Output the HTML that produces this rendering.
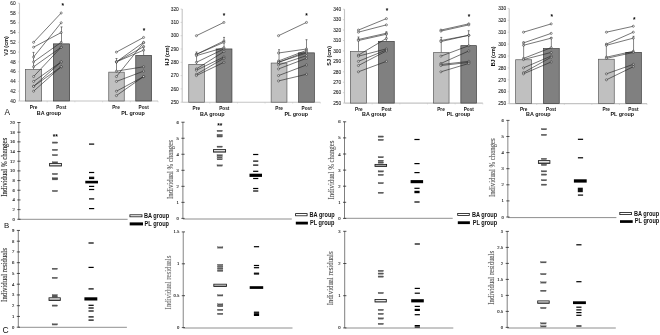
<!DOCTYPE html>
<html><head><meta charset="utf-8"><title>Figure</title>
<style>
html,body{margin:0;padding:0;background:#fff;}
body{width:660px;height:335px;overflow:hidden;}
svg{display:block;filter:blur(0.25px);}
.at{font-family:"Liberation Sans", sans-serif;font-size:4.8px;fill:#2a2a2a;stroke:#2a2a2a;stroke-width:0.1px;text-anchor:end;}
.pp{font-family:"Liberation Sans", sans-serif;font-size:4.7px;font-weight:bold;fill:#111;text-anchor:middle;}
.grp{font-family:"Liberation Sans", sans-serif;font-size:5.4px;font-weight:bold;fill:#111;text-anchor:middle;}
.ayl{font-family:"Liberation Sans", sans-serif;font-size:5.45px;font-weight:bold;fill:#111;text-anchor:middle;}
.pl{font-family:"Liberation Sans", sans-serif;font-size:7.8px;fill:#111;}
.star{font-family:"Liberation Sans", sans-serif;font-size:6.5px;font-weight:bold;fill:#000;text-anchor:middle;}
.star2{font-family:"Liberation Sans", sans-serif;font-size:6.6px;font-weight:bold;fill:#000;text-anchor:middle;}
.bt{font-family:"Liberation Serif", serif;font-size:4.7px;fill:#222;stroke:#222;stroke-width:0.12px;text-anchor:end;}
.byl{font-family:"Liberation Serif", serif;font-size:6.8px;fill:#444;stroke:#444;stroke-width:0.1px;text-anchor:middle;}
.leg{font-family:"Liberation Sans", sans-serif;font-size:5.6px;font-weight:bold;fill:#111;}
.pt{fill:#fff;fill-opacity:0.6;stroke:#222;stroke-width:0.5;}
</style></head>
<body>
<svg width="660" height="335" viewBox="0 0 660 335">
<defs><linearGradient id="bx" x1="0" y1="0" x2="0" y2="1"><stop offset="0" stop-color="#f4f4f4"/><stop offset="0.45" stop-color="#e8e8e8"/><stop offset="0.55" stop-color="#a8a8a8"/><stop offset="1" stop-color="#a0a0a0"/></linearGradient></defs>
<rect width="660" height="335" fill="#fff"/>
<line x1="19.5" y1="3.2" x2="19.5" y2="101" stroke="#c4c4c4" stroke-width="1.1"/>
<line x1="19.5" y1="101" x2="158" y2="101" stroke="#c4c4c4" stroke-width="1.1"/>
<line x1="17.9" y1="101" x2="19.5" y2="101" stroke="#c4c4c4" stroke-width="0.7"/>
<text x="15.6" y="102.7" class="at">40</text>
<line x1="17.9" y1="91.22" x2="19.5" y2="91.22" stroke="#c4c4c4" stroke-width="0.7"/>
<text x="15.6" y="92.92" class="at">42</text>
<line x1="17.9" y1="81.44" x2="19.5" y2="81.44" stroke="#c4c4c4" stroke-width="0.7"/>
<text x="15.6" y="83.14" class="at">44</text>
<line x1="17.9" y1="71.66" x2="19.5" y2="71.66" stroke="#c4c4c4" stroke-width="0.7"/>
<text x="15.6" y="73.36" class="at">46</text>
<line x1="17.9" y1="61.88" x2="19.5" y2="61.88" stroke="#c4c4c4" stroke-width="0.7"/>
<text x="15.6" y="63.58" class="at">48</text>
<line x1="17.9" y1="52.1" x2="19.5" y2="52.1" stroke="#c4c4c4" stroke-width="0.7"/>
<text x="15.6" y="53.8" class="at">50</text>
<line x1="17.9" y1="42.32" x2="19.5" y2="42.32" stroke="#c4c4c4" stroke-width="0.7"/>
<text x="15.6" y="44.02" class="at">52</text>
<line x1="17.9" y1="32.54" x2="19.5" y2="32.54" stroke="#c4c4c4" stroke-width="0.7"/>
<text x="15.6" y="34.24" class="at">54</text>
<line x1="17.9" y1="22.76" x2="19.5" y2="22.76" stroke="#c4c4c4" stroke-width="0.7"/>
<text x="15.6" y="24.46" class="at">56</text>
<line x1="17.9" y1="12.98" x2="19.5" y2="12.98" stroke="#c4c4c4" stroke-width="0.7"/>
<text x="15.6" y="14.68" class="at">58</text>
<line x1="17.9" y1="3.2" x2="19.5" y2="3.2" stroke="#c4c4c4" stroke-width="0.7"/>
<text x="15.6" y="4.9" class="at">60</text>
<line x1="47.2" y1="101" x2="47.2" y2="102.3" stroke="#c4c4c4" stroke-width="0.6"/>
<line x1="74.9" y1="101" x2="74.9" y2="102.3" stroke="#c4c4c4" stroke-width="0.6"/>
<line x1="102.6" y1="101" x2="102.6" y2="102.3" stroke="#c4c4c4" stroke-width="0.6"/>
<line x1="130.3" y1="101" x2="130.3" y2="102.3" stroke="#c4c4c4" stroke-width="0.6"/>
<line x1="158" y1="101" x2="158" y2="102.3" stroke="#c4c4c4" stroke-width="0.6"/>
<rect x="25.35" y="69.55" width="16.3" height="31.45" fill="#c0c0c0" stroke="#5a5a5a" stroke-width="0.7"/>
<rect x="53.35" y="43.85" width="16.3" height="57.15" fill="#808080" stroke="#3c3c3c" stroke-width="0.7"/>
<rect x="108.75" y="72.15" width="15.5" height="28.85" fill="#c0c0c0" stroke="#5a5a5a" stroke-width="0.7"/>
<rect x="135.75" y="55.35" width="15.8" height="45.65" fill="#808080" stroke="#3c3c3c" stroke-width="0.7"/>
<line x1="33.5" y1="52.4" x2="33.5" y2="69.2" stroke="#333" stroke-width="0.6"/>
<line x1="32.5" y1="52.4" x2="34.5" y2="52.4" stroke="#333" stroke-width="0.6"/>
<line x1="61.5" y1="26.9" x2="61.5" y2="43.5" stroke="#333" stroke-width="0.6"/>
<line x1="60.5" y1="26.9" x2="62.5" y2="26.9" stroke="#333" stroke-width="0.6"/>
<line x1="116.5" y1="58.5" x2="116.5" y2="71.8" stroke="#333" stroke-width="0.6"/>
<line x1="115.5" y1="58.5" x2="117.5" y2="58.5" stroke="#333" stroke-width="0.6"/>
<line x1="143.65" y1="46" x2="143.65" y2="55" stroke="#333" stroke-width="0.6"/>
<line x1="142.65" y1="46" x2="144.65" y2="46" stroke="#333" stroke-width="0.6"/>
<line x1="33.6" y1="42.32" x2="61.2" y2="12.98" stroke="#222" stroke-width="0.62"/>
<line x1="33.6" y1="47.21" x2="61.2" y2="32.54" stroke="#222" stroke-width="0.62"/>
<line x1="33.6" y1="56.99" x2="61.2" y2="22.76" stroke="#222" stroke-width="0.62"/>
<line x1="33.6" y1="61.88" x2="61.2" y2="42.32" stroke="#222" stroke-width="0.62"/>
<line x1="33.6" y1="66.77" x2="61.2" y2="47.21" stroke="#222" stroke-width="0.62"/>
<line x1="33.6" y1="76.55" x2="61.2" y2="47.21" stroke="#222" stroke-width="0.62"/>
<line x1="33.6" y1="81.44" x2="61.2" y2="61.88" stroke="#222" stroke-width="0.62"/>
<line x1="33.6" y1="86.33" x2="61.2" y2="61.88" stroke="#222" stroke-width="0.62"/>
<line x1="33.6" y1="86.33" x2="61.2" y2="66.77" stroke="#222" stroke-width="0.62"/>
<line x1="33.6" y1="91.22" x2="61.2" y2="66.77" stroke="#222" stroke-width="0.62"/>
<circle cx="33.6" cy="42.32" r="1.05" class="pt"/>
<circle cx="61.2" cy="12.98" r="1.05" class="pt"/>
<circle cx="33.6" cy="47.21" r="1.05" class="pt"/>
<circle cx="61.2" cy="32.54" r="1.05" class="pt"/>
<circle cx="33.6" cy="56.99" r="1.05" class="pt"/>
<circle cx="61.2" cy="22.76" r="1.05" class="pt"/>
<circle cx="33.6" cy="61.88" r="1.05" class="pt"/>
<circle cx="61.2" cy="42.32" r="1.05" class="pt"/>
<circle cx="33.6" cy="66.77" r="1.05" class="pt"/>
<circle cx="61.2" cy="47.21" r="1.05" class="pt"/>
<circle cx="33.6" cy="76.55" r="1.05" class="pt"/>
<circle cx="61.2" cy="47.21" r="1.05" class="pt"/>
<circle cx="33.6" cy="81.44" r="1.05" class="pt"/>
<circle cx="61.2" cy="61.88" r="1.05" class="pt"/>
<circle cx="33.6" cy="86.33" r="1.05" class="pt"/>
<circle cx="61.2" cy="61.88" r="1.05" class="pt"/>
<circle cx="33.6" cy="86.33" r="1.05" class="pt"/>
<circle cx="61.2" cy="66.77" r="1.05" class="pt"/>
<circle cx="33.6" cy="91.22" r="1.05" class="pt"/>
<circle cx="61.2" cy="66.77" r="1.05" class="pt"/>
<line x1="116.4" y1="52.1" x2="143.6" y2="37.43" stroke="#222" stroke-width="0.62"/>
<line x1="116.4" y1="61.88" x2="143.6" y2="42.32" stroke="#222" stroke-width="0.62"/>
<line x1="116.4" y1="61.88" x2="143.6" y2="46.72" stroke="#222" stroke-width="0.62"/>
<line x1="116.4" y1="61.88" x2="143.6" y2="50.14" stroke="#222" stroke-width="0.62"/>
<line x1="116.4" y1="71.17" x2="143.6" y2="66.77" stroke="#222" stroke-width="0.62"/>
<line x1="116.4" y1="76.55" x2="143.6" y2="42.81" stroke="#222" stroke-width="0.62"/>
<line x1="116.4" y1="81.44" x2="143.6" y2="71.17" stroke="#222" stroke-width="0.62"/>
<line x1="116.4" y1="91.22" x2="143.6" y2="76.55" stroke="#222" stroke-width="0.62"/>
<line x1="116.4" y1="95.62" x2="143.6" y2="76.55" stroke="#222" stroke-width="0.62"/>
<circle cx="116.4" cy="52.1" r="1.05" class="pt"/>
<circle cx="143.6" cy="37.43" r="1.05" class="pt"/>
<circle cx="116.4" cy="61.88" r="1.05" class="pt"/>
<circle cx="143.6" cy="42.32" r="1.05" class="pt"/>
<circle cx="116.4" cy="61.88" r="1.05" class="pt"/>
<circle cx="143.6" cy="46.72" r="1.05" class="pt"/>
<circle cx="116.4" cy="61.88" r="1.05" class="pt"/>
<circle cx="143.6" cy="50.14" r="1.05" class="pt"/>
<circle cx="116.4" cy="71.17" r="1.05" class="pt"/>
<circle cx="143.6" cy="66.77" r="1.05" class="pt"/>
<circle cx="116.4" cy="76.55" r="1.05" class="pt"/>
<circle cx="143.6" cy="42.81" r="1.05" class="pt"/>
<circle cx="116.4" cy="81.44" r="1.05" class="pt"/>
<circle cx="143.6" cy="71.17" r="1.05" class="pt"/>
<circle cx="116.4" cy="91.22" r="1.05" class="pt"/>
<circle cx="143.6" cy="76.55" r="1.05" class="pt"/>
<circle cx="116.4" cy="95.62" r="1.05" class="pt"/>
<circle cx="143.6" cy="76.55" r="1.05" class="pt"/>
<text x="62.8" y="7.9" class="star">*</text>
<text x="144" y="32.5" class="star">*</text>
<text x="33.6" y="108.8" class="pp">Pre</text>
<text x="61.3" y="108.8" class="pp">Post</text>
<text x="49" y="115" class="grp">BA group</text>
<text x="116" y="108.8" class="pp">Pre</text>
<text x="143.7" y="108.8" class="pp">Post</text>
<text x="133" y="115" class="grp">PL group</text>
<text transform="translate(7.7,46) rotate(-90)" class="ayl">VJ (cm)</text>
<line x1="182.2" y1="9.1" x2="182.2" y2="102.2" stroke="#c4c4c4" stroke-width="1.1"/>
<line x1="182.2" y1="102.2" x2="320.3" y2="102.2" stroke="#c4c4c4" stroke-width="1.1"/>
<line x1="180.6" y1="102.2" x2="182.2" y2="102.2" stroke="#c4c4c4" stroke-width="0.7"/>
<text x="178.8" y="103.9" class="at">250</text>
<line x1="180.6" y1="88.9" x2="182.2" y2="88.9" stroke="#c4c4c4" stroke-width="0.7"/>
<text x="178.8" y="90.6" class="at">260</text>
<line x1="180.6" y1="75.6" x2="182.2" y2="75.6" stroke="#c4c4c4" stroke-width="0.7"/>
<text x="178.8" y="77.3" class="at">270</text>
<line x1="180.6" y1="62.3" x2="182.2" y2="62.3" stroke="#c4c4c4" stroke-width="0.7"/>
<text x="178.8" y="64" class="at">280</text>
<line x1="180.6" y1="49" x2="182.2" y2="49" stroke="#c4c4c4" stroke-width="0.7"/>
<text x="178.8" y="50.7" class="at">290</text>
<line x1="180.6" y1="35.7" x2="182.2" y2="35.7" stroke="#c4c4c4" stroke-width="0.7"/>
<text x="178.8" y="37.4" class="at">300</text>
<line x1="180.6" y1="22.4" x2="182.2" y2="22.4" stroke="#c4c4c4" stroke-width="0.7"/>
<text x="178.8" y="24.1" class="at">310</text>
<line x1="180.6" y1="9.1" x2="182.2" y2="9.1" stroke="#c4c4c4" stroke-width="0.7"/>
<text x="178.8" y="10.8" class="at">320</text>
<line x1="209.82" y1="102.2" x2="209.82" y2="103.5" stroke="#c4c4c4" stroke-width="0.6"/>
<line x1="237.44" y1="102.2" x2="237.44" y2="103.5" stroke="#c4c4c4" stroke-width="0.6"/>
<line x1="265.06" y1="102.2" x2="265.06" y2="103.5" stroke="#c4c4c4" stroke-width="0.6"/>
<line x1="292.68" y1="102.2" x2="292.68" y2="103.5" stroke="#c4c4c4" stroke-width="0.6"/>
<line x1="320.3" y1="102.2" x2="320.3" y2="103.5" stroke="#c4c4c4" stroke-width="0.6"/>
<rect x="188.75" y="64.45" width="15.6" height="37.75" fill="#c0c0c0" stroke="#5a5a5a" stroke-width="0.7"/>
<rect x="216.15" y="48.95" width="15.8" height="53.25" fill="#808080" stroke="#3c3c3c" stroke-width="0.7"/>
<rect x="271.15" y="63.05" width="15.8" height="39.15" fill="#c0c0c0" stroke="#5a5a5a" stroke-width="0.7"/>
<rect x="298.65" y="52.85" width="15.7" height="49.35" fill="#808080" stroke="#3c3c3c" stroke-width="0.7"/>
<line x1="196.55" y1="52" x2="196.55" y2="64.1" stroke="#333" stroke-width="0.6"/>
<line x1="195.55" y1="52" x2="197.55" y2="52" stroke="#333" stroke-width="0.6"/>
<line x1="224.05" y1="37.4" x2="224.05" y2="48.6" stroke="#333" stroke-width="0.6"/>
<line x1="223.05" y1="37.4" x2="225.05" y2="37.4" stroke="#333" stroke-width="0.6"/>
<line x1="279.05" y1="49.7" x2="279.05" y2="62.7" stroke="#333" stroke-width="0.6"/>
<line x1="278.05" y1="49.7" x2="280.05" y2="49.7" stroke="#333" stroke-width="0.6"/>
<line x1="306.5" y1="39.7" x2="306.5" y2="52.5" stroke="#333" stroke-width="0.6"/>
<line x1="305.5" y1="39.7" x2="307.5" y2="39.7" stroke="#333" stroke-width="0.6"/>
<line x1="196.4" y1="35.7" x2="223.9" y2="22.4" stroke="#222" stroke-width="0.62"/>
<line x1="196.4" y1="54.32" x2="223.9" y2="41.02" stroke="#222" stroke-width="0.62"/>
<line x1="196.4" y1="54.32" x2="223.9" y2="42.35" stroke="#222" stroke-width="0.62"/>
<line x1="196.4" y1="55.65" x2="223.9" y2="47.67" stroke="#222" stroke-width="0.62"/>
<line x1="196.4" y1="62.3" x2="223.9" y2="49" stroke="#222" stroke-width="0.62"/>
<line x1="196.4" y1="68.95" x2="223.9" y2="51.66" stroke="#222" stroke-width="0.62"/>
<line x1="196.4" y1="70.28" x2="223.9" y2="56.98" stroke="#222" stroke-width="0.62"/>
<line x1="196.4" y1="74.27" x2="223.9" y2="58.31" stroke="#222" stroke-width="0.62"/>
<line x1="196.4" y1="75.6" x2="223.9" y2="62.3" stroke="#222" stroke-width="0.62"/>
<circle cx="196.4" cy="35.7" r="1.05" class="pt"/>
<circle cx="223.9" cy="22.4" r="1.05" class="pt"/>
<circle cx="196.4" cy="54.32" r="1.05" class="pt"/>
<circle cx="223.9" cy="41.02" r="1.05" class="pt"/>
<circle cx="196.4" cy="54.32" r="1.05" class="pt"/>
<circle cx="223.9" cy="42.35" r="1.05" class="pt"/>
<circle cx="196.4" cy="55.65" r="1.05" class="pt"/>
<circle cx="223.9" cy="47.67" r="1.05" class="pt"/>
<circle cx="196.4" cy="62.3" r="1.05" class="pt"/>
<circle cx="223.9" cy="49" r="1.05" class="pt"/>
<circle cx="196.4" cy="68.95" r="1.05" class="pt"/>
<circle cx="223.9" cy="51.66" r="1.05" class="pt"/>
<circle cx="196.4" cy="70.28" r="1.05" class="pt"/>
<circle cx="223.9" cy="56.98" r="1.05" class="pt"/>
<circle cx="196.4" cy="74.27" r="1.05" class="pt"/>
<circle cx="223.9" cy="58.31" r="1.05" class="pt"/>
<circle cx="196.4" cy="75.6" r="1.05" class="pt"/>
<circle cx="223.9" cy="62.3" r="1.05" class="pt"/>
<line x1="278.5" y1="35.7" x2="306.5" y2="22.4" stroke="#222" stroke-width="0.62"/>
<line x1="278.5" y1="52.99" x2="306.5" y2="49" stroke="#222" stroke-width="0.62"/>
<line x1="278.5" y1="60.97" x2="306.5" y2="50.33" stroke="#222" stroke-width="0.62"/>
<line x1="278.5" y1="62.3" x2="306.5" y2="51.66" stroke="#222" stroke-width="0.62"/>
<line x1="278.5" y1="62.3" x2="306.5" y2="52.99" stroke="#222" stroke-width="0.62"/>
<line x1="278.5" y1="64.96" x2="306.5" y2="55.65" stroke="#222" stroke-width="0.62"/>
<line x1="278.5" y1="68.95" x2="306.5" y2="58.31" stroke="#222" stroke-width="0.62"/>
<line x1="278.5" y1="75.6" x2="306.5" y2="64.96" stroke="#222" stroke-width="0.62"/>
<line x1="278.5" y1="80.92" x2="306.5" y2="74.27" stroke="#222" stroke-width="0.62"/>
<circle cx="278.5" cy="35.7" r="1.05" class="pt"/>
<circle cx="306.5" cy="22.4" r="1.05" class="pt"/>
<circle cx="278.5" cy="52.99" r="1.05" class="pt"/>
<circle cx="306.5" cy="49" r="1.05" class="pt"/>
<circle cx="278.5" cy="60.97" r="1.05" class="pt"/>
<circle cx="306.5" cy="50.33" r="1.05" class="pt"/>
<circle cx="278.5" cy="62.3" r="1.05" class="pt"/>
<circle cx="306.5" cy="51.66" r="1.05" class="pt"/>
<circle cx="278.5" cy="62.3" r="1.05" class="pt"/>
<circle cx="306.5" cy="52.99" r="1.05" class="pt"/>
<circle cx="278.5" cy="64.96" r="1.05" class="pt"/>
<circle cx="306.5" cy="55.65" r="1.05" class="pt"/>
<circle cx="278.5" cy="68.95" r="1.05" class="pt"/>
<circle cx="306.5" cy="58.31" r="1.05" class="pt"/>
<circle cx="278.5" cy="75.6" r="1.05" class="pt"/>
<circle cx="306.5" cy="64.96" r="1.05" class="pt"/>
<circle cx="278.5" cy="80.92" r="1.05" class="pt"/>
<circle cx="306.5" cy="74.27" r="1.05" class="pt"/>
<text x="223.9" y="17.5" class="star">*</text>
<text x="306.5" y="18.1" class="star">*</text>
<text x="196.4" y="110.2" class="pp">Pre</text>
<text x="224.3" y="110.2" class="pp">Post</text>
<text x="212.3" y="115.6" class="grp">BA group</text>
<text x="279.1" y="110.2" class="pp">Pre</text>
<text x="306.7" y="110.2" class="pp">Post</text>
<text x="296.2" y="115.6" class="grp">PL group</text>
<text transform="translate(168.5,55.5) rotate(-90)" class="ayl">HJ (cm)</text>
<line x1="344.5" y1="9.23" x2="344.5" y2="103.1" stroke="#c4c4c4" stroke-width="1.1"/>
<line x1="344.5" y1="103.1" x2="482.8" y2="103.1" stroke="#c4c4c4" stroke-width="1.1"/>
<line x1="342.9" y1="103.1" x2="344.5" y2="103.1" stroke="#c4c4c4" stroke-width="0.7"/>
<text x="341.2" y="104.8" class="at">250</text>
<line x1="342.9" y1="92.67" x2="344.5" y2="92.67" stroke="#c4c4c4" stroke-width="0.7"/>
<text x="341.2" y="94.37" class="at">260</text>
<line x1="342.9" y1="82.24" x2="344.5" y2="82.24" stroke="#c4c4c4" stroke-width="0.7"/>
<text x="341.2" y="83.94" class="at">270</text>
<line x1="342.9" y1="71.81" x2="344.5" y2="71.81" stroke="#c4c4c4" stroke-width="0.7"/>
<text x="341.2" y="73.51" class="at">280</text>
<line x1="342.9" y1="61.38" x2="344.5" y2="61.38" stroke="#c4c4c4" stroke-width="0.7"/>
<text x="341.2" y="63.08" class="at">290</text>
<line x1="342.9" y1="50.95" x2="344.5" y2="50.95" stroke="#c4c4c4" stroke-width="0.7"/>
<text x="341.2" y="52.65" class="at">300</text>
<line x1="342.9" y1="40.52" x2="344.5" y2="40.52" stroke="#c4c4c4" stroke-width="0.7"/>
<text x="341.2" y="42.22" class="at">310</text>
<line x1="342.9" y1="30.09" x2="344.5" y2="30.09" stroke="#c4c4c4" stroke-width="0.7"/>
<text x="341.2" y="31.79" class="at">320</text>
<line x1="342.9" y1="19.66" x2="344.5" y2="19.66" stroke="#c4c4c4" stroke-width="0.7"/>
<text x="341.2" y="21.36" class="at">330</text>
<line x1="342.9" y1="9.23" x2="344.5" y2="9.23" stroke="#c4c4c4" stroke-width="0.7"/>
<text x="341.2" y="10.93" class="at">340</text>
<line x1="372.16" y1="103.1" x2="372.16" y2="104.4" stroke="#c4c4c4" stroke-width="0.6"/>
<line x1="399.82" y1="103.1" x2="399.82" y2="104.4" stroke="#c4c4c4" stroke-width="0.6"/>
<line x1="427.48" y1="103.1" x2="427.48" y2="104.4" stroke="#c4c4c4" stroke-width="0.6"/>
<line x1="455.14" y1="103.1" x2="455.14" y2="104.4" stroke="#c4c4c4" stroke-width="0.6"/>
<line x1="482.8" y1="103.1" x2="482.8" y2="104.4" stroke="#c4c4c4" stroke-width="0.6"/>
<rect x="350.35" y="51.55" width="16.3" height="51.55" fill="#c0c0c0" stroke="#5a5a5a" stroke-width="0.7"/>
<rect x="378.55" y="41.35" width="15.7" height="61.75" fill="#808080" stroke="#3c3c3c" stroke-width="0.7"/>
<rect x="433.45" y="52.65" width="15.6" height="50.45" fill="#c0c0c0" stroke="#5a5a5a" stroke-width="0.7"/>
<rect x="460.85" y="45.65" width="15.6" height="57.45" fill="#808080" stroke="#3c3c3c" stroke-width="0.7"/>
<line x1="358.5" y1="37" x2="358.5" y2="51.2" stroke="#333" stroke-width="0.6"/>
<line x1="357.5" y1="37" x2="359.5" y2="37" stroke="#333" stroke-width="0.6"/>
<line x1="386.4" y1="31.8" x2="386.4" y2="41" stroke="#333" stroke-width="0.6"/>
<line x1="385.4" y1="31.8" x2="387.4" y2="31.8" stroke="#333" stroke-width="0.6"/>
<line x1="441.25" y1="37.4" x2="441.25" y2="52.3" stroke="#333" stroke-width="0.6"/>
<line x1="440.25" y1="37.4" x2="442.25" y2="37.4" stroke="#333" stroke-width="0.6"/>
<line x1="468.65" y1="30.7" x2="468.65" y2="45.3" stroke="#333" stroke-width="0.6"/>
<line x1="467.65" y1="30.7" x2="469.65" y2="30.7" stroke="#333" stroke-width="0.6"/>
<line x1="358.4" y1="30.09" x2="386.4" y2="18.62" stroke="#222" stroke-width="0.62"/>
<line x1="358.4" y1="32.18" x2="386.4" y2="24.88" stroke="#222" stroke-width="0.62"/>
<line x1="358.4" y1="39.48" x2="386.4" y2="33.22" stroke="#222" stroke-width="0.62"/>
<line x1="358.4" y1="40.52" x2="386.4" y2="34.26" stroke="#222" stroke-width="0.62"/>
<line x1="358.4" y1="55.12" x2="386.4" y2="38.43" stroke="#222" stroke-width="0.62"/>
<line x1="358.4" y1="56.16" x2="386.4" y2="48.86" stroke="#222" stroke-width="0.62"/>
<line x1="358.4" y1="61.38" x2="386.4" y2="49.91" stroke="#222" stroke-width="0.62"/>
<line x1="358.4" y1="65.55" x2="386.4" y2="50.95" stroke="#222" stroke-width="0.62"/>
<line x1="358.4" y1="71.81" x2="386.4" y2="61.38" stroke="#222" stroke-width="0.62"/>
<circle cx="358.4" cy="30.09" r="1.05" class="pt"/>
<circle cx="386.4" cy="18.62" r="1.05" class="pt"/>
<circle cx="358.4" cy="32.18" r="1.05" class="pt"/>
<circle cx="386.4" cy="24.88" r="1.05" class="pt"/>
<circle cx="358.4" cy="39.48" r="1.05" class="pt"/>
<circle cx="386.4" cy="33.22" r="1.05" class="pt"/>
<circle cx="358.4" cy="40.52" r="1.05" class="pt"/>
<circle cx="386.4" cy="34.26" r="1.05" class="pt"/>
<circle cx="358.4" cy="55.12" r="1.05" class="pt"/>
<circle cx="386.4" cy="38.43" r="1.05" class="pt"/>
<circle cx="358.4" cy="56.16" r="1.05" class="pt"/>
<circle cx="386.4" cy="48.86" r="1.05" class="pt"/>
<circle cx="358.4" cy="61.38" r="1.05" class="pt"/>
<circle cx="386.4" cy="49.91" r="1.05" class="pt"/>
<circle cx="358.4" cy="65.55" r="1.05" class="pt"/>
<circle cx="386.4" cy="50.95" r="1.05" class="pt"/>
<circle cx="358.4" cy="71.81" r="1.05" class="pt"/>
<circle cx="386.4" cy="61.38" r="1.05" class="pt"/>
<line x1="440.9" y1="30.09" x2="468.8" y2="23.83" stroke="#222" stroke-width="0.62"/>
<line x1="440.9" y1="31.13" x2="468.8" y2="24.88" stroke="#222" stroke-width="0.62"/>
<line x1="440.9" y1="40.52" x2="468.8" y2="35.3" stroke="#222" stroke-width="0.62"/>
<line x1="440.9" y1="41.56" x2="468.8" y2="35.3" stroke="#222" stroke-width="0.62"/>
<line x1="440.9" y1="56.16" x2="468.8" y2="45.73" stroke="#222" stroke-width="0.62"/>
<line x1="440.9" y1="63.47" x2="468.8" y2="50.95" stroke="#222" stroke-width="0.62"/>
<line x1="440.9" y1="64.51" x2="468.8" y2="61.38" stroke="#222" stroke-width="0.62"/>
<line x1="440.9" y1="65.55" x2="468.8" y2="62.42" stroke="#222" stroke-width="0.62"/>
<line x1="440.9" y1="71.81" x2="468.8" y2="63.47" stroke="#222" stroke-width="0.62"/>
<circle cx="440.9" cy="30.09" r="1.05" class="pt"/>
<circle cx="468.8" cy="23.83" r="1.05" class="pt"/>
<circle cx="440.9" cy="31.13" r="1.05" class="pt"/>
<circle cx="468.8" cy="24.88" r="1.05" class="pt"/>
<circle cx="440.9" cy="40.52" r="1.05" class="pt"/>
<circle cx="468.8" cy="35.3" r="1.05" class="pt"/>
<circle cx="440.9" cy="41.56" r="1.05" class="pt"/>
<circle cx="468.8" cy="35.3" r="1.05" class="pt"/>
<circle cx="440.9" cy="56.16" r="1.05" class="pt"/>
<circle cx="468.8" cy="45.73" r="1.05" class="pt"/>
<circle cx="440.9" cy="63.47" r="1.05" class="pt"/>
<circle cx="468.8" cy="50.95" r="1.05" class="pt"/>
<circle cx="440.9" cy="64.51" r="1.05" class="pt"/>
<circle cx="468.8" cy="61.38" r="1.05" class="pt"/>
<circle cx="440.9" cy="65.55" r="1.05" class="pt"/>
<circle cx="468.8" cy="62.42" r="1.05" class="pt"/>
<circle cx="440.9" cy="71.81" r="1.05" class="pt"/>
<circle cx="468.8" cy="63.47" r="1.05" class="pt"/>
<text x="386.9" y="13.3" class="star">*</text>
<text x="469" y="18.9" class="star">*</text>
<text x="358.8" y="111" class="pp">Pre</text>
<text x="386.6" y="111" class="pp">Post</text>
<text x="374.2" y="116.3" class="grp">BA group</text>
<text x="441" y="111" class="pp">Pre</text>
<text x="468.8" y="111" class="pp">Post</text>
<text x="458.5" y="116.3" class="grp">PL group</text>
<text transform="translate(330.5,55.8) rotate(-90)" class="ayl">SJ (cm)</text>
<line x1="509.2" y1="8.4" x2="509.2" y2="103.6" stroke="#c4c4c4" stroke-width="1.1"/>
<line x1="509.2" y1="103.6" x2="647" y2="103.6" stroke="#c4c4c4" stroke-width="1.1"/>
<line x1="507.6" y1="103.6" x2="509.2" y2="103.6" stroke="#c4c4c4" stroke-width="0.7"/>
<text x="506.2" y="105.3" class="at">250</text>
<line x1="507.6" y1="91.7" x2="509.2" y2="91.7" stroke="#c4c4c4" stroke-width="0.7"/>
<text x="506.2" y="93.4" class="at">260</text>
<line x1="507.6" y1="79.8" x2="509.2" y2="79.8" stroke="#c4c4c4" stroke-width="0.7"/>
<text x="506.2" y="81.5" class="at">270</text>
<line x1="507.6" y1="67.9" x2="509.2" y2="67.9" stroke="#c4c4c4" stroke-width="0.7"/>
<text x="506.2" y="69.6" class="at">280</text>
<line x1="507.6" y1="56" x2="509.2" y2="56" stroke="#c4c4c4" stroke-width="0.7"/>
<text x="506.2" y="57.7" class="at">290</text>
<line x1="507.6" y1="44.1" x2="509.2" y2="44.1" stroke="#c4c4c4" stroke-width="0.7"/>
<text x="506.2" y="45.8" class="at">300</text>
<line x1="507.6" y1="32.2" x2="509.2" y2="32.2" stroke="#c4c4c4" stroke-width="0.7"/>
<text x="506.2" y="33.9" class="at">310</text>
<line x1="507.6" y1="20.3" x2="509.2" y2="20.3" stroke="#c4c4c4" stroke-width="0.7"/>
<text x="506.2" y="22" class="at">320</text>
<line x1="507.6" y1="8.4" x2="509.2" y2="8.4" stroke="#c4c4c4" stroke-width="0.7"/>
<text x="506.2" y="10.1" class="at">330</text>
<line x1="536.76" y1="103.6" x2="536.76" y2="104.9" stroke="#c4c4c4" stroke-width="0.6"/>
<line x1="564.32" y1="103.6" x2="564.32" y2="104.9" stroke="#c4c4c4" stroke-width="0.6"/>
<line x1="591.88" y1="103.6" x2="591.88" y2="104.9" stroke="#c4c4c4" stroke-width="0.6"/>
<line x1="619.44" y1="103.6" x2="619.44" y2="104.9" stroke="#c4c4c4" stroke-width="0.6"/>
<line x1="647" y1="103.6" x2="647" y2="104.9" stroke="#c4c4c4" stroke-width="0.6"/>
<rect x="515.65" y="59.75" width="16" height="43.85" fill="#c0c0c0" stroke="#5a5a5a" stroke-width="0.7"/>
<rect x="543.45" y="48.55" width="15.8" height="55.05" fill="#808080" stroke="#3c3c3c" stroke-width="0.7"/>
<rect x="598.45" y="59.25" width="15.8" height="44.35" fill="#c0c0c0" stroke="#5a5a5a" stroke-width="0.7"/>
<rect x="625.75" y="52.35" width="15.6" height="51.25" fill="#808080" stroke="#3c3c3c" stroke-width="0.7"/>
<line x1="523.65" y1="41.9" x2="523.65" y2="59.4" stroke="#333" stroke-width="0.6"/>
<line x1="522.65" y1="41.9" x2="524.65" y2="41.9" stroke="#333" stroke-width="0.6"/>
<line x1="551.35" y1="37.5" x2="551.35" y2="48.2" stroke="#333" stroke-width="0.6"/>
<line x1="550.35" y1="37.5" x2="552.35" y2="37.5" stroke="#333" stroke-width="0.6"/>
<line x1="606.35" y1="44.1" x2="606.35" y2="58.9" stroke="#333" stroke-width="0.6"/>
<line x1="605.35" y1="44.1" x2="607.35" y2="44.1" stroke="#333" stroke-width="0.6"/>
<line x1="633.55" y1="36.3" x2="633.55" y2="52" stroke="#333" stroke-width="0.6"/>
<line x1="632.55" y1="36.3" x2="634.55" y2="36.3" stroke="#333" stroke-width="0.6"/>
<line x1="523.5" y1="32.2" x2="551.2" y2="23.87" stroke="#222" stroke-width="0.62"/>
<line x1="523.5" y1="42.91" x2="551.2" y2="33.39" stroke="#222" stroke-width="0.62"/>
<line x1="523.5" y1="45.29" x2="551.2" y2="38.15" stroke="#222" stroke-width="0.62"/>
<line x1="523.5" y1="58.38" x2="551.2" y2="47.67" stroke="#222" stroke-width="0.62"/>
<line x1="523.5" y1="59.57" x2="551.2" y2="52.43" stroke="#222" stroke-width="0.62"/>
<line x1="523.5" y1="67.9" x2="551.2" y2="56" stroke="#222" stroke-width="0.62"/>
<line x1="523.5" y1="72.66" x2="551.2" y2="57.19" stroke="#222" stroke-width="0.62"/>
<line x1="523.5" y1="73.85" x2="551.2" y2="61.95" stroke="#222" stroke-width="0.62"/>
<circle cx="523.5" cy="32.2" r="1.05" class="pt"/>
<circle cx="551.2" cy="23.87" r="1.05" class="pt"/>
<circle cx="523.5" cy="42.91" r="1.05" class="pt"/>
<circle cx="551.2" cy="33.39" r="1.05" class="pt"/>
<circle cx="523.5" cy="45.29" r="1.05" class="pt"/>
<circle cx="551.2" cy="38.15" r="1.05" class="pt"/>
<circle cx="523.5" cy="58.38" r="1.05" class="pt"/>
<circle cx="551.2" cy="47.67" r="1.05" class="pt"/>
<circle cx="523.5" cy="59.57" r="1.05" class="pt"/>
<circle cx="551.2" cy="52.43" r="1.05" class="pt"/>
<circle cx="523.5" cy="67.9" r="1.05" class="pt"/>
<circle cx="551.2" cy="56" r="1.05" class="pt"/>
<circle cx="523.5" cy="72.66" r="1.05" class="pt"/>
<circle cx="551.2" cy="57.19" r="1.05" class="pt"/>
<circle cx="523.5" cy="73.85" r="1.05" class="pt"/>
<circle cx="551.2" cy="61.95" r="1.05" class="pt"/>
<line x1="606.4" y1="32.2" x2="633.3" y2="26.25" stroke="#222" stroke-width="0.62"/>
<line x1="606.4" y1="44.1" x2="633.3" y2="32.2" stroke="#222" stroke-width="0.62"/>
<line x1="606.4" y1="45.29" x2="633.3" y2="38.15" stroke="#222" stroke-width="0.62"/>
<line x1="606.4" y1="57.19" x2="633.3" y2="51.24" stroke="#222" stroke-width="0.62"/>
<line x1="606.4" y1="58.38" x2="633.3" y2="52.43" stroke="#222" stroke-width="0.62"/>
<line x1="606.4" y1="73.85" x2="633.3" y2="64.33" stroke="#222" stroke-width="0.62"/>
<line x1="606.4" y1="79.8" x2="633.3" y2="66.71" stroke="#222" stroke-width="0.62"/>
<circle cx="606.4" cy="32.2" r="1.05" class="pt"/>
<circle cx="633.3" cy="26.25" r="1.05" class="pt"/>
<circle cx="606.4" cy="44.1" r="1.05" class="pt"/>
<circle cx="633.3" cy="32.2" r="1.05" class="pt"/>
<circle cx="606.4" cy="45.29" r="1.05" class="pt"/>
<circle cx="633.3" cy="38.15" r="1.05" class="pt"/>
<circle cx="606.4" cy="57.19" r="1.05" class="pt"/>
<circle cx="633.3" cy="51.24" r="1.05" class="pt"/>
<circle cx="606.4" cy="58.38" r="1.05" class="pt"/>
<circle cx="633.3" cy="52.43" r="1.05" class="pt"/>
<circle cx="606.4" cy="73.85" r="1.05" class="pt"/>
<circle cx="633.3" cy="64.33" r="1.05" class="pt"/>
<circle cx="606.4" cy="79.8" r="1.05" class="pt"/>
<circle cx="633.3" cy="66.71" r="1.05" class="pt"/>
<text x="551.8" y="18.9" class="star">*</text>
<text x="634.2" y="22.1" class="star">*</text>
<text x="523.7" y="110.8" class="pp">Pre</text>
<text x="551.1" y="110.8" class="pp">Post</text>
<text x="538.3" y="116" class="grp">BA group</text>
<text x="606.2" y="110.8" class="pp">Pre</text>
<text x="633.4" y="110.8" class="pp">Post</text>
<text x="622.3" y="116" class="grp">PL group</text>
<text transform="translate(495.3,56.4) rotate(-90)" class="ayl">BJ (cm)</text>
<text transform="translate(4.5,114.6) scale(0.9,1)" class="pl" style="font-size:9.2px">A</text>
<text x="3.9" y="227.9" class="pl">B</text>
<text x="2.6" y="333.4" class="pl" style="font-size:8.5px">C</text>
<line x1="18.8" y1="122.5" x2="18.8" y2="219.3" stroke="#787878" stroke-width="0.95"/>
<line x1="18.8" y1="219.3" x2="127.6" y2="219.3" stroke="#6a6a6a" stroke-width="0.75"/>
<line x1="17.3" y1="219.3" x2="20.5" y2="219.3" stroke="#2a2a2a" stroke-width="0.8"/>
<text x="14.8" y="220.8" class="bt">0</text>
<line x1="17.3" y1="209.62" x2="20.5" y2="209.62" stroke="#2a2a2a" stroke-width="0.8"/>
<text x="14.8" y="211.12" class="bt">2</text>
<line x1="17.3" y1="199.94" x2="20.5" y2="199.94" stroke="#2a2a2a" stroke-width="0.8"/>
<text x="14.8" y="201.44" class="bt">4</text>
<line x1="17.3" y1="190.26" x2="20.5" y2="190.26" stroke="#2a2a2a" stroke-width="0.8"/>
<text x="14.8" y="191.76" class="bt">6</text>
<line x1="17.3" y1="180.58" x2="20.5" y2="180.58" stroke="#2a2a2a" stroke-width="0.8"/>
<text x="14.8" y="182.08" class="bt">8</text>
<line x1="17.3" y1="170.9" x2="20.5" y2="170.9" stroke="#2a2a2a" stroke-width="0.8"/>
<text x="14.8" y="172.4" class="bt">10</text>
<line x1="17.3" y1="161.22" x2="20.5" y2="161.22" stroke="#2a2a2a" stroke-width="0.8"/>
<text x="14.8" y="162.72" class="bt">12</text>
<line x1="17.3" y1="151.54" x2="20.5" y2="151.54" stroke="#2a2a2a" stroke-width="0.8"/>
<text x="14.8" y="153.04" class="bt">14</text>
<line x1="17.3" y1="141.86" x2="20.5" y2="141.86" stroke="#2a2a2a" stroke-width="0.8"/>
<text x="14.8" y="143.36" class="bt">16</text>
<line x1="17.3" y1="132.18" x2="20.5" y2="132.18" stroke="#2a2a2a" stroke-width="0.8"/>
<text x="14.8" y="133.68" class="bt">18</text>
<line x1="17.3" y1="122.5" x2="20.5" y2="122.5" stroke="#2a2a2a" stroke-width="0.8"/>
<text x="14.8" y="124" class="bt">20</text>
<text transform="translate(6.5,167.3) rotate(-90) scale(1,1.2)" class="byl" style="fill:#2a2a2a;stroke:#2a2a2a">Individual % changes</text>
<rect x="52.3" y="141.95" width="5.4" height="1.3" fill="#5a5a5a" stroke="#333" stroke-width="0.25"/>
<rect x="52.3" y="149.25" width="5.4" height="1.3" fill="#5a5a5a" stroke="#333" stroke-width="0.25"/>
<rect x="52.3" y="154.45" width="5.4" height="1.3" fill="#5a5a5a" stroke="#333" stroke-width="0.25"/>
<rect x="52.3" y="161.75" width="5.4" height="1.3" fill="#5a5a5a" stroke="#333" stroke-width="0.25"/>
<rect x="52.3" y="173.35" width="5.4" height="1.3" fill="#5a5a5a" stroke="#333" stroke-width="0.25"/>
<rect x="52.3" y="177.65" width="5.4" height="1.3" fill="#5a5a5a" stroke="#333" stroke-width="0.25"/>
<rect x="52.3" y="178.65" width="5.4" height="1.3" fill="#5a5a5a" stroke="#333" stroke-width="0.25"/>
<rect x="52.3" y="190.35" width="5.4" height="1.3" fill="#5a5a5a" stroke="#333" stroke-width="0.25"/>
<rect x="89" y="143.5" width="5.2" height="1.2" fill="#000"/>
<rect x="89" y="171.9" width="5.2" height="1.2" fill="#000"/>
<rect x="89" y="176.7" width="5.2" height="1.2" fill="#000"/>
<rect x="89" y="177.9" width="5.2" height="1.2" fill="#000"/>
<rect x="89" y="185.8" width="5.2" height="1.2" fill="#000"/>
<rect x="89" y="188.9" width="5.2" height="1.2" fill="#000"/>
<rect x="89" y="198.3" width="5.2" height="1.2" fill="#000"/>
<rect x="89" y="208" width="5.2" height="1.2" fill="#000"/>
<rect x="49.6" y="163.4" width="11.8" height="2.6" fill="url(#bx)" stroke="#1a1a1a" stroke-width="0.85"/>
<rect x="85.3" y="180.8" width="12.7" height="2.6" fill="#000"/>
<text x="55.2" y="138.6" class="star2">**</text>
<rect x="129.9" y="214.8" width="12.1" height="2" fill="#fff" stroke="#111" stroke-width="0.8"/>
<text transform="translate(143.9,218.2) scale(1,1.16)" class="leg">BA group</text>
<rect x="129.7" y="222.4" width="13.3" height="3" fill="#000"/>
<text transform="translate(144.6,226.1) scale(1,1.16)" class="leg">PL group</text>
<line x1="182.9" y1="122.22" x2="182.9" y2="218.4" stroke="#787878" stroke-width="0.95"/>
<line x1="182.9" y1="219" x2="291.8" y2="219" stroke="#6a6a6a" stroke-width="0.75"/>
<line x1="181.4" y1="218.4" x2="184.6" y2="218.4" stroke="#2a2a2a" stroke-width="0.8"/>
<text x="178.9" y="219.9" class="bt">0</text>
<line x1="181.4" y1="202.37" x2="184.6" y2="202.37" stroke="#2a2a2a" stroke-width="0.8"/>
<text x="178.9" y="203.87" class="bt">1</text>
<line x1="181.4" y1="186.34" x2="184.6" y2="186.34" stroke="#2a2a2a" stroke-width="0.8"/>
<text x="178.9" y="187.84" class="bt">2</text>
<line x1="181.4" y1="170.31" x2="184.6" y2="170.31" stroke="#2a2a2a" stroke-width="0.8"/>
<text x="178.9" y="171.81" class="bt">3</text>
<line x1="181.4" y1="154.28" x2="184.6" y2="154.28" stroke="#2a2a2a" stroke-width="0.8"/>
<text x="178.9" y="155.78" class="bt">4</text>
<line x1="181.4" y1="138.25" x2="184.6" y2="138.25" stroke="#2a2a2a" stroke-width="0.8"/>
<text x="178.9" y="139.75" class="bt">5</text>
<line x1="181.4" y1="122.22" x2="184.6" y2="122.22" stroke="#2a2a2a" stroke-width="0.8"/>
<text x="178.9" y="123.72" class="bt">6</text>
<text transform="translate(172.6,169.6) rotate(-90) scale(1,1.2)" class="byl" style="fill:#5e5e5e;stroke:#5e5e5e">Individual % changes</text>
<rect x="217" y="130.25" width="5.4" height="1.3" fill="#5a5a5a" stroke="#333" stroke-width="0.25"/>
<rect x="217" y="134.35" width="5.4" height="1.3" fill="#5a5a5a" stroke="#333" stroke-width="0.25"/>
<rect x="217" y="135.75" width="5.4" height="1.3" fill="#5a5a5a" stroke="#333" stroke-width="0.25"/>
<rect x="217" y="146.05" width="5.4" height="1.3" fill="#5a5a5a" stroke="#333" stroke-width="0.25"/>
<rect x="217" y="154.65" width="5.4" height="1.3" fill="#5a5a5a" stroke="#333" stroke-width="0.25"/>
<rect x="217" y="156.55" width="5.4" height="1.3" fill="#5a5a5a" stroke="#333" stroke-width="0.25"/>
<rect x="217" y="158.55" width="5.4" height="1.3" fill="#5a5a5a" stroke="#333" stroke-width="0.25"/>
<rect x="217" y="164.85" width="5.4" height="1.3" fill="#5a5a5a" stroke="#333" stroke-width="0.25"/>
<rect x="253.1" y="153.9" width="5.2" height="1.2" fill="#000"/>
<rect x="253.1" y="160.5" width="5.2" height="1.2" fill="#000"/>
<rect x="253.1" y="164.5" width="5.2" height="1.2" fill="#000"/>
<rect x="253.1" y="170.7" width="5.2" height="1.2" fill="#000"/>
<rect x="253.1" y="177.9" width="5.2" height="1.2" fill="#000"/>
<rect x="253.1" y="187.9" width="5.2" height="1.2" fill="#000"/>
<rect x="253.1" y="190.4" width="5.2" height="1.2" fill="#000"/>
<rect x="213.5" y="149.6" width="12.1" height="2.5" fill="url(#bx)" stroke="#1a1a1a" stroke-width="0.85"/>
<rect x="249.5" y="173.7" width="12.5" height="3.2" fill="#000"/>
<text x="219.7" y="128" class="star2">**</text>
<rect x="295.6" y="213.6" width="11.5" height="2.2" fill="#fff" stroke="#111" stroke-width="0.8"/>
<text transform="translate(309.5,217.2) scale(1,1.16)" class="leg">BA group</text>
<rect x="295.8" y="221.7" width="12.1" height="2.8" fill="#000"/>
<text transform="translate(310,225.1) scale(1,1.16)" class="leg">PL group</text>
<line x1="344.5" y1="121.8" x2="344.5" y2="218.4" stroke="#787878" stroke-width="0.95"/>
<line x1="344.5" y1="218.3" x2="452.7" y2="218.3" stroke="#6a6a6a" stroke-width="0.75"/>
<line x1="343" y1="218.4" x2="346.2" y2="218.4" stroke="#2a2a2a" stroke-width="0.8"/>
<text x="340.5" y="219.9" class="bt">0</text>
<line x1="343" y1="202.3" x2="346.2" y2="202.3" stroke="#2a2a2a" stroke-width="0.8"/>
<text x="340.5" y="203.8" class="bt">1</text>
<line x1="343" y1="186.2" x2="346.2" y2="186.2" stroke="#2a2a2a" stroke-width="0.8"/>
<text x="340.5" y="187.7" class="bt">2</text>
<line x1="343" y1="170.1" x2="346.2" y2="170.1" stroke="#2a2a2a" stroke-width="0.8"/>
<text x="340.5" y="171.6" class="bt">3</text>
<line x1="343" y1="154" x2="346.2" y2="154" stroke="#2a2a2a" stroke-width="0.8"/>
<text x="340.5" y="155.5" class="bt">4</text>
<line x1="343" y1="137.9" x2="346.2" y2="137.9" stroke="#2a2a2a" stroke-width="0.8"/>
<text x="340.5" y="139.4" class="bt">5</text>
<line x1="343" y1="121.8" x2="346.2" y2="121.8" stroke="#2a2a2a" stroke-width="0.8"/>
<text x="340.5" y="123.3" class="bt">6</text>
<text transform="translate(333.9,170) rotate(-90) scale(1,1.2)" class="byl" style="fill:#5e5e5e;stroke:#5e5e5e">Individual % changes</text>
<rect x="378.1" y="135.95" width="5.4" height="1.3" fill="#5a5a5a" stroke="#333" stroke-width="0.25"/>
<rect x="378.1" y="139.25" width="5.4" height="1.3" fill="#5a5a5a" stroke="#333" stroke-width="0.25"/>
<rect x="378.1" y="156.55" width="5.4" height="1.3" fill="#5a5a5a" stroke="#333" stroke-width="0.25"/>
<rect x="378.1" y="160.15" width="5.4" height="1.3" fill="#5a5a5a" stroke="#333" stroke-width="0.25"/>
<rect x="378.1" y="161.95" width="5.4" height="1.3" fill="#5a5a5a" stroke="#333" stroke-width="0.25"/>
<rect x="378.1" y="170.75" width="5.4" height="1.3" fill="#5a5a5a" stroke="#333" stroke-width="0.25"/>
<rect x="378.1" y="174.25" width="5.4" height="1.3" fill="#5a5a5a" stroke="#333" stroke-width="0.25"/>
<rect x="378.1" y="182.45" width="5.4" height="1.3" fill="#5a5a5a" stroke="#333" stroke-width="0.25"/>
<rect x="378.1" y="192.15" width="5.4" height="1.3" fill="#5a5a5a" stroke="#333" stroke-width="0.25"/>
<rect x="414.4" y="138.9" width="5.2" height="1.2" fill="#000"/>
<rect x="414.4" y="163" width="5.2" height="1.2" fill="#000"/>
<rect x="414.4" y="172" width="5.2" height="1.2" fill="#000"/>
<rect x="414.4" y="187.7" width="5.2" height="1.2" fill="#000"/>
<rect x="414.4" y="190.8" width="5.2" height="1.2" fill="#000"/>
<rect x="414.4" y="192" width="5.2" height="1.2" fill="#000"/>
<rect x="414.4" y="201.4" width="5.2" height="1.2" fill="#000"/>
<rect x="375" y="164.4" width="11.6" height="2" fill="url(#bx)" stroke="#1a1a1a" stroke-width="0.85"/>
<rect x="410.6" y="180.1" width="12.5" height="3.1" fill="#000"/>
<rect x="457.7" y="213.5" width="11.6" height="1.9" fill="#fff" stroke="#111" stroke-width="0.8"/>
<text transform="translate(471.9,216.8) scale(1,1.16)" class="leg">BA group</text>
<rect x="457.8" y="221.3" width="12.1" height="2.8" fill="#000"/>
<text transform="translate(472.7,224.5) scale(1,1.16)" class="leg">PL group</text>
<line x1="507.8" y1="120.4" x2="507.8" y2="217" stroke="#a2a2a2" stroke-width="1.3"/>
<line x1="507.8" y1="217.6" x2="616.4" y2="217.6" stroke="#6a6a6a" stroke-width="0.75"/>
<line x1="506.3" y1="217" x2="509.5" y2="217" stroke="#2a2a2a" stroke-width="0.8"/>
<text x="503.8" y="218.5" class="bt">0</text>
<line x1="506.3" y1="200.9" x2="509.5" y2="200.9" stroke="#2a2a2a" stroke-width="0.8"/>
<text x="503.8" y="202.4" class="bt">1</text>
<line x1="506.3" y1="184.8" x2="509.5" y2="184.8" stroke="#2a2a2a" stroke-width="0.8"/>
<text x="503.8" y="186.3" class="bt">2</text>
<line x1="506.3" y1="168.7" x2="509.5" y2="168.7" stroke="#2a2a2a" stroke-width="0.8"/>
<text x="503.8" y="170.2" class="bt">3</text>
<line x1="506.3" y1="152.6" x2="509.5" y2="152.6" stroke="#2a2a2a" stroke-width="0.8"/>
<text x="503.8" y="154.1" class="bt">4</text>
<line x1="506.3" y1="136.5" x2="509.5" y2="136.5" stroke="#2a2a2a" stroke-width="0.8"/>
<text x="503.8" y="138" class="bt">5</text>
<line x1="506.3" y1="120.4" x2="509.5" y2="120.4" stroke="#2a2a2a" stroke-width="0.8"/>
<text x="503.8" y="121.9" class="bt">6</text>
<text transform="translate(495.3,167.7) rotate(-90) scale(1,1.2)" class="byl" style="fill:#5e5e5e;stroke:#5e5e5e">Individual % changes</text>
<rect x="541.3" y="128.55" width="5.4" height="1.3" fill="#5a5a5a" stroke="#333" stroke-width="0.25"/>
<rect x="541.3" y="134.25" width="5.4" height="1.3" fill="#5a5a5a" stroke="#333" stroke-width="0.25"/>
<rect x="541.3" y="158.25" width="5.4" height="1.3" fill="#5a5a5a" stroke="#333" stroke-width="0.25"/>
<rect x="541.3" y="164.25" width="5.4" height="1.3" fill="#5a5a5a" stroke="#333" stroke-width="0.25"/>
<rect x="541.3" y="170.65" width="5.4" height="1.3" fill="#5a5a5a" stroke="#333" stroke-width="0.25"/>
<rect x="541.3" y="173.95" width="5.4" height="1.3" fill="#5a5a5a" stroke="#333" stroke-width="0.25"/>
<rect x="541.3" y="179.55" width="5.4" height="1.3" fill="#5a5a5a" stroke="#333" stroke-width="0.25"/>
<rect x="541.3" y="184.05" width="5.4" height="1.3" fill="#5a5a5a" stroke="#333" stroke-width="0.25"/>
<rect x="577.9" y="138.7" width="5.2" height="1.2" fill="#000"/>
<rect x="577.9" y="157.2" width="5.2" height="1.2" fill="#000"/>
<rect x="577.9" y="194.5" width="5.2" height="1.2" fill="#000"/>
<rect x="577.8" y="187.7" width="5" height="4.5" fill="#111"/>
<rect x="538.4" y="160.6" width="11.5" height="2.8" fill="url(#bx)" stroke="#1a1a1a" stroke-width="0.85"/>
<rect x="573.9" y="179.3" width="12.8" height="3.3" fill="#000"/>
<rect x="619.8" y="212.5" width="11.7" height="2.1" fill="#fff" stroke="#111" stroke-width="0.8"/>
<text transform="translate(633.9,216) scale(1,1.16)" class="leg">BA group</text>
<rect x="620" y="220.2" width="12.7" height="2.7" fill="#000"/>
<text transform="translate(634.8,223.2) scale(1,1.16)" class="leg">PL group</text>
<line x1="18.3" y1="230.45" x2="18.3" y2="327.2" stroke="#787878" stroke-width="0.95"/>
<line x1="18.3" y1="327.3" x2="126.9" y2="327.3" stroke="#6a6a6a" stroke-width="0.75"/>
<line x1="16.8" y1="327.2" x2="20" y2="327.2" stroke="#2a2a2a" stroke-width="0.8"/>
<text x="14.3" y="328.7" class="bt">0</text>
<line x1="16.8" y1="316.45" x2="20" y2="316.45" stroke="#2a2a2a" stroke-width="0.8"/>
<text x="14.3" y="317.95" class="bt">1</text>
<line x1="16.8" y1="305.7" x2="20" y2="305.7" stroke="#2a2a2a" stroke-width="0.8"/>
<text x="14.3" y="307.2" class="bt">2</text>
<line x1="16.8" y1="294.95" x2="20" y2="294.95" stroke="#2a2a2a" stroke-width="0.8"/>
<text x="14.3" y="296.45" class="bt">3</text>
<line x1="16.8" y1="284.2" x2="20" y2="284.2" stroke="#2a2a2a" stroke-width="0.8"/>
<text x="14.3" y="285.7" class="bt">4</text>
<line x1="16.8" y1="273.45" x2="20" y2="273.45" stroke="#2a2a2a" stroke-width="0.8"/>
<text x="14.3" y="274.95" class="bt">5</text>
<line x1="16.8" y1="262.7" x2="20" y2="262.7" stroke="#2a2a2a" stroke-width="0.8"/>
<text x="14.3" y="264.2" class="bt">6</text>
<line x1="16.8" y1="251.95" x2="20" y2="251.95" stroke="#2a2a2a" stroke-width="0.8"/>
<text x="14.3" y="253.45" class="bt">7</text>
<line x1="16.8" y1="241.2" x2="20" y2="241.2" stroke="#2a2a2a" stroke-width="0.8"/>
<text x="14.3" y="242.7" class="bt">8</text>
<line x1="16.8" y1="230.45" x2="20" y2="230.45" stroke="#2a2a2a" stroke-width="0.8"/>
<text x="14.3" y="231.95" class="bt">9</text>
<text transform="translate(7.2,275) rotate(-90) scale(1,1.2)" class="byl" style="fill:#3a3a3a;stroke:#3a3a3a">Individual residuals</text>
<rect x="52.1" y="268.15" width="5.4" height="1.3" fill="#5a5a5a" stroke="#333" stroke-width="0.25"/>
<rect x="52.1" y="277.25" width="5.4" height="1.3" fill="#5a5a5a" stroke="#333" stroke-width="0.25"/>
<rect x="52.1" y="294.55" width="5.4" height="1.3" fill="#5a5a5a" stroke="#333" stroke-width="0.25"/>
<rect x="52.1" y="295.95" width="5.4" height="1.3" fill="#5a5a5a" stroke="#333" stroke-width="0.25"/>
<rect x="52.1" y="304.95" width="5.4" height="1.3" fill="#5a5a5a" stroke="#333" stroke-width="0.25"/>
<rect x="52.1" y="323.75" width="5.4" height="1.3" fill="#5a5a5a" stroke="#333" stroke-width="0.25"/>
<rect x="88.5" y="242.4" width="5.2" height="1.2" fill="#000"/>
<rect x="88.5" y="266.8" width="5.2" height="1.2" fill="#000"/>
<rect x="88.5" y="288.3" width="5.2" height="1.2" fill="#000"/>
<rect x="88.5" y="304.7" width="5.2" height="1.2" fill="#000"/>
<rect x="88.5" y="307.4" width="5.2" height="1.2" fill="#000"/>
<rect x="88.5" y="310.4" width="5.2" height="1.2" fill="#000"/>
<rect x="88.5" y="316.3" width="5.2" height="1.2" fill="#000"/>
<rect x="88.5" y="319.5" width="5.2" height="1.2" fill="#000"/>
<rect x="49" y="297.8" width="11.3" height="2.7" fill="url(#bx)" stroke="#1a1a1a" stroke-width="0.85"/>
<rect x="84.4" y="297.3" width="12.9" height="3.2" fill="#000"/>
<line x1="183.3" y1="231.9" x2="183.3" y2="327.6" stroke="#a2a2a2" stroke-width="1.3"/>
<line x1="183.3" y1="328" x2="292.5" y2="328" stroke="#6a6a6a" stroke-width="0.75"/>
<line x1="181.8" y1="327.6" x2="185" y2="327.6" stroke="#2a2a2a" stroke-width="0.8"/>
<text x="179.3" y="329.1" class="bt">0</text>
<line x1="181.8" y1="295.7" x2="185" y2="295.7" stroke="#2a2a2a" stroke-width="0.8"/>
<text x="179.3" y="297.2" class="bt">0.5</text>
<line x1="181.8" y1="263.8" x2="185" y2="263.8" stroke="#2a2a2a" stroke-width="0.8"/>
<text x="179.3" y="265.3" class="bt">1</text>
<line x1="181.8" y1="231.9" x2="185" y2="231.9" stroke="#2a2a2a" stroke-width="0.8"/>
<text x="179.3" y="233.4" class="bt">1.5</text>
<text transform="translate(170.5,282.5) rotate(-90) scale(1,1.2)" class="byl" style="fill:#777;stroke:#777">Individual residuals</text>
<rect x="217.5" y="246.85" width="5.4" height="1.3" fill="#5a5a5a" stroke="#333" stroke-width="0.25"/>
<rect x="217.5" y="264.35" width="5.4" height="1.3" fill="#5a5a5a" stroke="#333" stroke-width="0.25"/>
<rect x="217.5" y="266.25" width="5.4" height="1.3" fill="#5a5a5a" stroke="#333" stroke-width="0.25"/>
<rect x="217.5" y="268.15" width="5.4" height="1.3" fill="#5a5a5a" stroke="#333" stroke-width="0.25"/>
<rect x="217.5" y="270.15" width="5.4" height="1.3" fill="#5a5a5a" stroke="#333" stroke-width="0.25"/>
<rect x="217.5" y="294.75" width="5.4" height="1.3" fill="#5a5a5a" stroke="#333" stroke-width="0.25"/>
<rect x="217.5" y="303.85" width="5.4" height="1.3" fill="#5a5a5a" stroke="#333" stroke-width="0.25"/>
<rect x="217.5" y="305.45" width="5.4" height="1.3" fill="#5a5a5a" stroke="#333" stroke-width="0.25"/>
<rect x="217.5" y="309.25" width="5.4" height="1.3" fill="#5a5a5a" stroke="#333" stroke-width="0.25"/>
<rect x="217.5" y="313.25" width="5.4" height="1.3" fill="#5a5a5a" stroke="#333" stroke-width="0.25"/>
<rect x="253.9" y="246.1" width="5.2" height="1.2" fill="#000"/>
<rect x="253.9" y="264.9" width="5.2" height="1.2" fill="#000"/>
<rect x="253.9" y="267.1" width="5.2" height="1.2" fill="#000"/>
<rect x="253.9" y="272.6" width="5.2" height="1.2" fill="#000"/>
<rect x="253.9" y="273.4" width="5.2" height="1.2" fill="#000"/>
<rect x="253.9" y="311.6" width="5.2" height="1.2" fill="#000"/>
<rect x="253.9" y="312.6" width="5.2" height="1.2" fill="#000"/>
<rect x="253.9" y="313.8" width="5.2" height="1.2" fill="#000"/>
<rect x="253.9" y="314.8" width="5.2" height="1.2" fill="#000"/>
<rect x="213.8" y="284.2" width="12.7" height="2.3" fill="url(#bx)" stroke="#1a1a1a" stroke-width="0.85"/>
<rect x="249.7" y="286.2" width="13.5" height="2.7" fill="#000"/>
<line x1="344.7" y1="231.3" x2="344.7" y2="327.9" stroke="#787878" stroke-width="0.95"/>
<line x1="344.7" y1="328" x2="453.3" y2="328" stroke="#6a6a6a" stroke-width="0.75"/>
<line x1="343.2" y1="327.9" x2="346.4" y2="327.9" stroke="#2a2a2a" stroke-width="0.8"/>
<text x="340.7" y="329.4" class="bt">0</text>
<line x1="343.2" y1="295.7" x2="346.4" y2="295.7" stroke="#2a2a2a" stroke-width="0.8"/>
<text x="340.7" y="297.2" class="bt">1</text>
<line x1="343.2" y1="263.5" x2="346.4" y2="263.5" stroke="#2a2a2a" stroke-width="0.8"/>
<text x="340.7" y="265" class="bt">2</text>
<line x1="343.2" y1="231.3" x2="346.4" y2="231.3" stroke="#2a2a2a" stroke-width="0.8"/>
<text x="340.7" y="232.8" class="bt">3</text>
<text transform="translate(332.5,278.3) rotate(-90) scale(1,1.2)" class="byl" style="fill:#5e5e5e;stroke:#5e5e5e">Individual residuals</text>
<rect x="378.1" y="270.25" width="5.4" height="1.3" fill="#5a5a5a" stroke="#333" stroke-width="0.25"/>
<rect x="378.1" y="272.95" width="5.4" height="1.3" fill="#5a5a5a" stroke="#333" stroke-width="0.25"/>
<rect x="378.1" y="275.95" width="5.4" height="1.3" fill="#5a5a5a" stroke="#333" stroke-width="0.25"/>
<rect x="378.1" y="292.35" width="5.4" height="1.3" fill="#5a5a5a" stroke="#333" stroke-width="0.25"/>
<rect x="378.1" y="309.25" width="5.4" height="1.3" fill="#5a5a5a" stroke="#333" stroke-width="0.25"/>
<rect x="378.1" y="313.25" width="5.4" height="1.3" fill="#5a5a5a" stroke="#333" stroke-width="0.25"/>
<rect x="378.1" y="317.85" width="5.4" height="1.3" fill="#5a5a5a" stroke="#333" stroke-width="0.25"/>
<rect x="378.1" y="323.25" width="5.4" height="1.3" fill="#5a5a5a" stroke="#333" stroke-width="0.25"/>
<rect x="414.7" y="243.4" width="5.2" height="1.2" fill="#000"/>
<rect x="414.7" y="287.8" width="5.2" height="1.2" fill="#000"/>
<rect x="414.7" y="292.6" width="5.2" height="1.2" fill="#000"/>
<rect x="414.7" y="305.8" width="5.2" height="1.2" fill="#000"/>
<rect x="414.7" y="308.8" width="5.2" height="1.2" fill="#000"/>
<rect x="414.7" y="309.8" width="5.2" height="1.2" fill="#000"/>
<rect x="414.7" y="314.1" width="5.2" height="1.2" fill="#000"/>
<rect x="414.7" y="325" width="5.2" height="1.2" fill="#000"/>
<rect x="414.7" y="326.4" width="5.2" height="1.2" fill="#000"/>
<rect x="375" y="299.5" width="11.3" height="2.5" fill="url(#bx)" stroke="#1a1a1a" stroke-width="0.85"/>
<rect x="411.2" y="299.2" width="12.6" height="3.2" fill="#000"/>
<line x1="507.2" y1="231.4" x2="507.2" y2="327.4" stroke="#787878" stroke-width="0.95"/>
<line x1="507.2" y1="328" x2="615.8" y2="328" stroke="#6a6a6a" stroke-width="0.75"/>
<line x1="505.7" y1="327.4" x2="508.9" y2="327.4" stroke="#2a2a2a" stroke-width="0.8"/>
<text x="503.2" y="328.9" class="bt">0</text>
<line x1="505.7" y1="311.4" x2="508.9" y2="311.4" stroke="#2a2a2a" stroke-width="0.8"/>
<text x="503.2" y="312.9" class="bt">0.5</text>
<line x1="505.7" y1="295.4" x2="508.9" y2="295.4" stroke="#2a2a2a" stroke-width="0.8"/>
<text x="503.2" y="296.9" class="bt">1</text>
<line x1="505.7" y1="279.4" x2="508.9" y2="279.4" stroke="#2a2a2a" stroke-width="0.8"/>
<text x="503.2" y="280.9" class="bt">1.5</text>
<line x1="505.7" y1="263.4" x2="508.9" y2="263.4" stroke="#2a2a2a" stroke-width="0.8"/>
<text x="503.2" y="264.9" class="bt">2</text>
<line x1="505.7" y1="247.4" x2="508.9" y2="247.4" stroke="#2a2a2a" stroke-width="0.8"/>
<text x="503.2" y="248.9" class="bt">2.5</text>
<line x1="505.7" y1="231.4" x2="508.9" y2="231.4" stroke="#2a2a2a" stroke-width="0.8"/>
<text x="503.2" y="232.9" class="bt">3</text>
<text transform="translate(493.6,277.8) rotate(-90) scale(1,1.2)" class="byl" style="fill:#5e5e5e;stroke:#5e5e5e">Individual residuals</text>
<rect x="540.7" y="261.65" width="5.4" height="1.3" fill="#5a5a5a" stroke="#333" stroke-width="0.25"/>
<rect x="540.7" y="273.45" width="5.4" height="1.3" fill="#5a5a5a" stroke="#333" stroke-width="0.25"/>
<rect x="540.7" y="281.85" width="5.4" height="1.3" fill="#5a5a5a" stroke="#333" stroke-width="0.25"/>
<rect x="540.7" y="290.15" width="5.4" height="1.3" fill="#5a5a5a" stroke="#333" stroke-width="0.25"/>
<rect x="540.7" y="307.35" width="5.4" height="1.3" fill="#5a5a5a" stroke="#333" stroke-width="0.25"/>
<rect x="540.7" y="322.75" width="5.4" height="1.3" fill="#5a5a5a" stroke="#333" stroke-width="0.25"/>
<rect x="540.7" y="325.75" width="5.4" height="1.3" fill="#5a5a5a" stroke="#333" stroke-width="0.25"/>
<rect x="576.3" y="244.2" width="5.2" height="1.2" fill="#000"/>
<rect x="576.3" y="281.1" width="5.2" height="1.2" fill="#000"/>
<rect x="576.3" y="306.6" width="5.2" height="1.2" fill="#000"/>
<rect x="576.3" y="309.3" width="5.2" height="1.2" fill="#000"/>
<rect x="576.3" y="312" width="5.2" height="1.2" fill="#000"/>
<rect x="576.3" y="314.7" width="5.2" height="1.2" fill="#000"/>
<rect x="576.3" y="325.4" width="5.2" height="1.2" fill="#000"/>
<rect x="537.7" y="300.9" width="11.5" height="2.4" fill="url(#bx)" stroke="#1a1a1a" stroke-width="0.85"/>
<rect x="573" y="301.3" width="12.9" height="2.8" fill="#000"/>
</svg>
</body></html>
